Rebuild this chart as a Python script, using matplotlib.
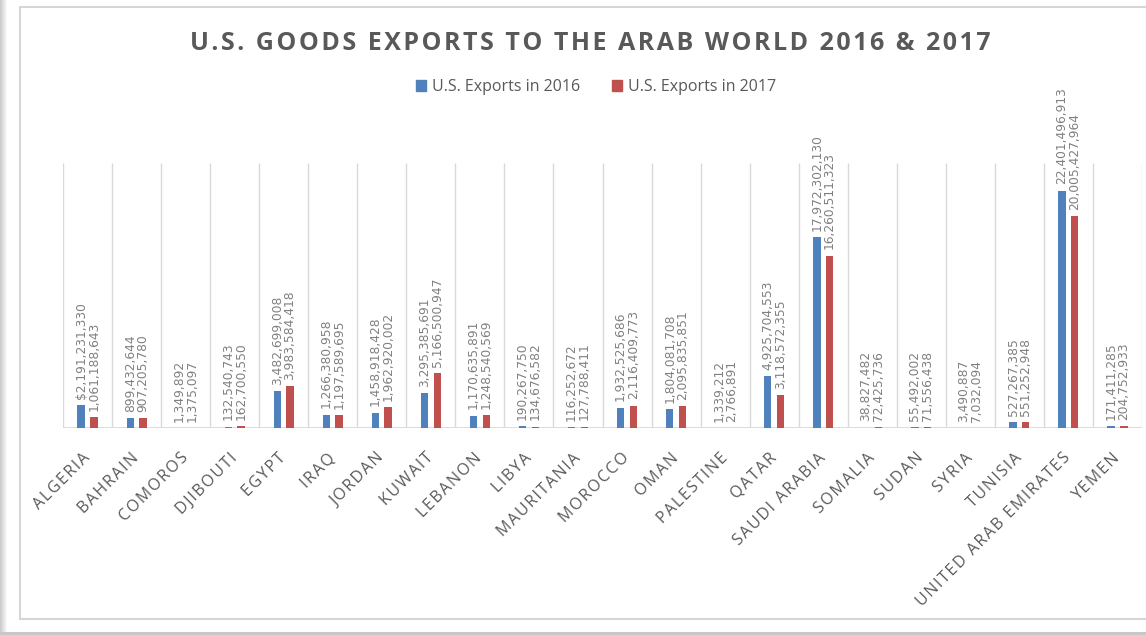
import numpy as np
import matplotlib
matplotlib.use("Agg")
import matplotlib.pyplot as plt
from matplotlib.patches import Rectangle, Patch

countries = ["ALGERIA", "BAHRAIN", "COMOROS", "DJIBOUTI", "EGYPT", "IRAQ", "JORDAN",
             "KUWAIT", "LEBANON", "LIBYA", "MAURITANIA", "MOROCCO", "OMAN", "PALESTINE",
             "QATAR", "SAUDI ARABIA", "SOMALIA", "SUDAN", "SYRIA", "TUNISIA",
             "UNITED ARAB EMIRATES", "YEMEN"]

exports_2016 = [2191231330, 899432644, 1349892, 132540743, 3482699008, 1266380958,
                1458918428, 3295385691, 1170635891, 190267750, 116252672, 1932525686,
                1804081708, 1339212, 4925704553, 17972302130, 38827482, 55492002,
                3490887, 527267385, 22401496913, 171411285]

exports_2017 = [1061188643, 907205780, 1375097, 162700550, 3983584418, 1197589695,
                1962920002, 5166500947, 1248540569, 134676582, 127788411, 2116409773,
                2095835851, 2766891, 3118572355, 16260511323, 72425736, 71556438,
                7032094, 551252948, 20005427964, 204752933]

blue = "#4F81BD"
red = "#C0504D"
txt_grey = "#595959"
lbl_grey = "#808080"
grid_grey = "#d9d9d9"
fam = ["Open Sans", "DejaVu Sans"]


def spaced(s, sp="\u200a"):
    return sp.join(s)


fig = plt.figure(figsize=(11.46, 6.35), dpi=100)

# screenshot card frame + shadow
fig.patches.append(Rectangle((20 / 1146, 1 - 619 / 635), 1.2, (619 - 7) / 635,
                             transform=fig.transFigure, facecolor="white",
                             edgecolor="#d6d6d6", lw=1.5, zorder=-10))
for i in range(7):
    g = 0.80 + i * 0.028
    fig.patches.append(Rectangle((i / 1146, 0), 1 / 1146, 1, transform=fig.transFigure,
                                 facecolor=(g, g, g), edgecolor="none", zorder=-10))
fig.patches.append(Rectangle((0, 0), 1, 3.5 / 635, transform=fig.transFigure,
                             facecolor="#c8c8c8", edgecolor="none", zorder=-10))

ax = fig.add_axes([63 / 1146, 1 - 428 / 635, (1142 - 63) / 1146, (428 - 163) / 635])
ax.set_facecolor("none")
ax.set_zorder(5)

x = np.arange(len(countries))
off = 0.13
w = 0.15
b1 = ax.bar(x - off, exports_2016, w, color=blue, zorder=3)
b2 = ax.bar(x + off, exports_2017, w, color=red, zorder=3)

ymax = 25e9
ax.set_ylim(0, ymax)
ax.set_xlim(-0.5, len(countries) - 0.5)

ax.vlines(np.arange(len(countries) + 1) - 0.5, 0, ymax, color=grid_grey, lw=1, zorder=1)
ax.axhline(0, color=grid_grey, lw=1.3, zorder=2)

for i, (v1, v2) in enumerate(zip(exports_2016, exports_2017)):
    s1 = f"{v1:,}"
    if i == 0:
        s1 = "$" + s1
    ax.annotate(s1, (i - off, v1), xytext=(0, 4.5), textcoords="offset points",
                rotation=90, ha="center", va="bottom", fontsize=8.8,
                color=lbl_grey, zorder=4, annotation_clip=False)
    ax.annotate(f"{v2:,}", (i + off, v2), xytext=(0, 4.5), textcoords="offset points",
                rotation=90, ha="center", va="bottom", fontsize=8.8,
                color=lbl_grey, zorder=4, annotation_clip=False)

for s in ax.spines.values():
    s.set_visible(False)
ax.set_yticks([])
ax.set_xticks(x)
ax.set_xticklabels([spaced(c) for c in countries], rotation=45, ha="right",
                   va="center", rotation_mode="anchor", fontsize=11.5,
                   color=txt_grey, family=fam)
ax.tick_params(axis="x", length=0, pad=20)

fig.text(590 / 1146, 1 - 43 / 635, spaced("U.S. GOODS EXPORTS TO THE ARAB WORLD 2016 & 2017"),
         ha="center", va="center", fontsize=18, fontweight="bold",
         color=txt_grey, family=fam)

handles = [Patch(color=blue, label="U.S. Exports in 2016"),
           Patch(color=red, label="U.S. Exports in 2017")]
fig.legend(handles=handles, loc="center", bbox_to_anchor=(596 / 1146, 1 - 87 / 635),
           ncol=2, frameon=False, handlelength=0.65, handleheight=0.65,
           handletextpad=0.35, columnspacing=2.0,
           prop={"family": fam, "size": 11.5}, labelcolor=txt_grey)

fig.savefig("out.png", dpi=100)
